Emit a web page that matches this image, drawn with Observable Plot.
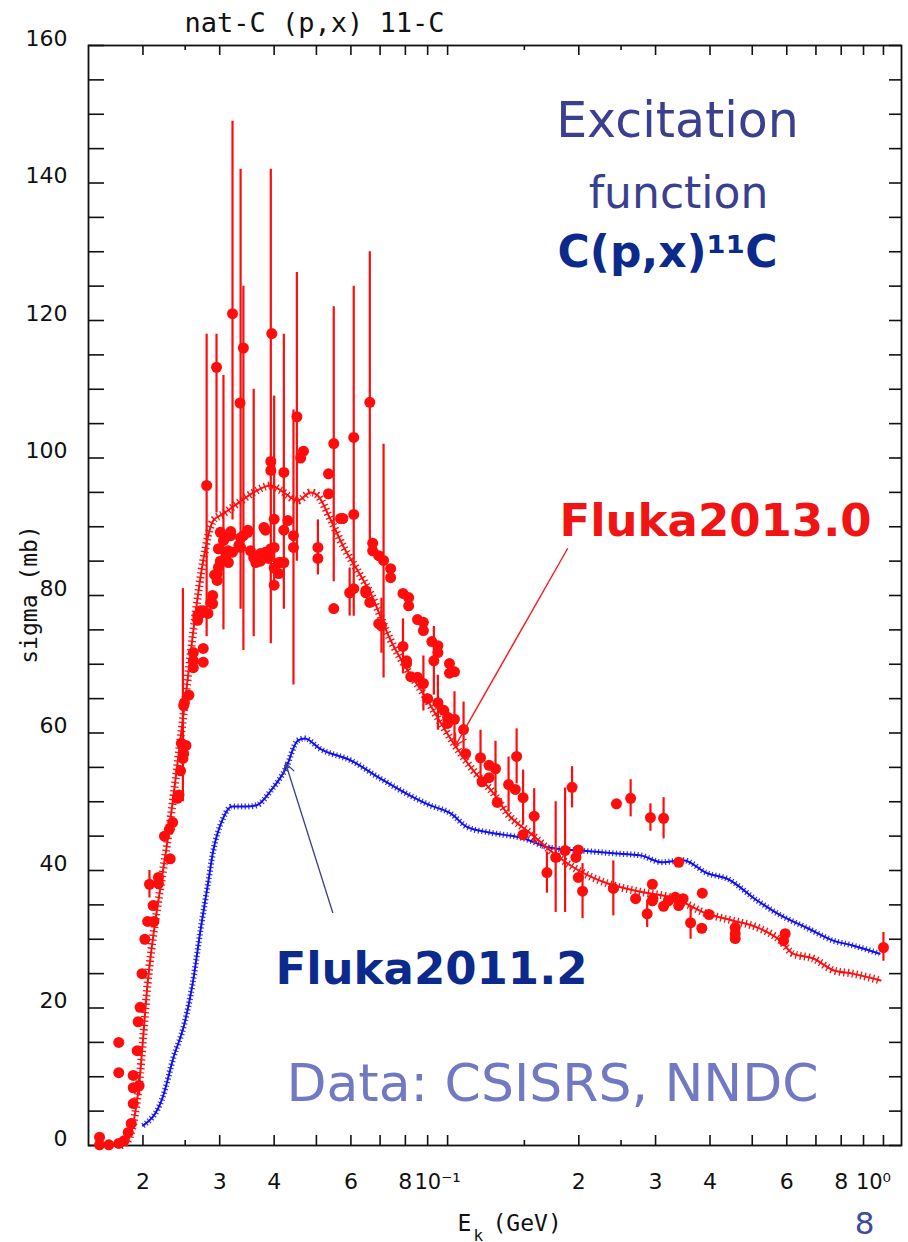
<!DOCTYPE html>
<html><head><meta charset="utf-8">
<script src="https://cdn.jsdelivr.net/npm/d3@7"></script>
<script src="https://cdn.jsdelivr.net/npm/@observablehq/plot@0.6"></script>
<style>
body{margin:0;background:#fff;}
#chart{width:908px;height:1242px;overflow:hidden;}
#chart svg{background:
  radial-gradient(ellipse 620px 170px at 470px 600px, rgba(222,229,205,0.55), rgba(255,255,255,0) 75%),
  radial-gradient(ellipse 170px 190px at 150px 560px, rgba(210,210,210,0.35), rgba(255,255,255,0) 70%),
  #fff;}
</style>
</head><body><div id="chart"></div>
<script>
// ---------- data ----------
// experimental points: [E (GeV), sigma (mb)]
const expPoints = [
 [0.0159,1.2],[0.0159,0.1],[0.0167,0.1],[0.0176,0.3],[0.0176,10.6],[0.0176,15.0],[0.0181,0.7],[0.0185,1.9],
 [0.0188,3.2],[0.019,6.1],[0.019,8.4],[0.019,10.2],[0.0194,13.8],[0.0195,18.0],[0.0196,8.7],[0.0197,20.1],
 [0.0199,25.0],[0.0202,30.0],[0.0205,32.6],[0.0207,38.0],[0.0211,34.9],[0.0212,32.6],[0.0217,39.0],[0.0217,38.1],
 [0.0224,45.0],[0.023,46.0],[0.0231,41.7],[0.0234,47.0],[0.024,50.5],[0.0242,51.0],[0.0244,54.5],[0.0245,58.5],
 [0.0247,56.3],[0.0248,57.0],[0.0248,64.0],[0.0249,64.4],[0.0251,58.2],[0.0255,65.5],[0.0261,69.5],[0.0261,71.7],
 [0.0261,70.5],[0.0267,77.1],[0.0267,76.4],[0.0271,77.8],[0.0271,77.4],[0.0275,70.3],[0.0275,72.3],[0.0275,77.8],
 [0.028,96.0],[0.0282,77.4],[0.0286,79.0],[0.0289,80.0],[0.0289,78.8],[0.0292,83.0],[0.0296,82.2],[0.0296,83.2],
 [0.0295,113.2],[0.0298,84.1],[0.0298,86.8],[0.0301,89.2],[0.0301,85.0],[0.0306,88.0],[0.031,85.8],[0.031,88.5],
 [0.0314,84.8],[0.0314,86.5],[0.0318,88.7],[0.0318,89.3],[0.0321,121.0],[0.0321,86.3],[0.0332,87.3],[0.0334,108.0],
 [0.0335,88.4],[0.0335,87.0],[0.034,116.0],[0.034,88.7],[0.0348,89.2],[0.0348,89.5],[0.0353,86.5],[0.0359,85.5],
 [0.0363,84.8],[0.0372,86.1],[0.0372,85.0],[0.0379,89.9],[0.0379,85.5],[0.0382,86.3],[0.0382,89.5],[0.0388,85.4],
 [0.0388,86.3],[0.0393,86.8],[0.0393,98.2],[0.0393,99.5],[0.0395,118.1],[0.04,87.0],[0.04,91.1],[0.04,81.5],
 [0.04,84.0],[0.041,83.2],[0.041,84.8],[0.0414,84.8],[0.0421,97.9],[0.0421,89.5],[0.0421,84.8],[0.043,90.9],
 [0.0443,88.7],[0.0443,87.0],[0.0451,106.0],[0.046,100.0],[0.0467,101.0],[0.0504,87.0],[0.0504,85.4],[0.0533,97.7],
 [0.0533,94.8],[0.0548,102.1],[0.0548,78.1],[0.0568,91.2],[0.0575,91.2],[0.0596,80.4],[0.0609,103.0],[0.0609,81.0],
 [0.0609,91.8],[0.0649,80.7],[0.0649,80.4],[0.0663,108.1],[0.0663,79.0],[0.0673,87.6],[0.0673,86.5],[0.0695,85.8],
 [0.0695,75.9],[0.0713,85.1],[0.0705,75.6],[0.074,83.9],[0.074,82.6],[0.079,80.3],[0.079,72.6],[0.0805,70.5],
 [0.0805,70.1],[0.0814,79.7],[0.0814,78.5],[0.0823,68.2],[0.0853,76.5],[0.0853,68.1],[0.088,76.1],[0.088,74.9],
 [0.088,67.2],[0.09,65.0],[0.092,73.3],[0.093,70.5],[0.095,72.7],[0.095,71.7],[0.095,64.4],[0.098,63.3],
 [0.1,62.3],[0.1,61.4],[0.101,70.1],[0.101,68.7],[0.1037,68.9],[0.1037,62.0],[0.1088,60.5],[0.11,57.0],
 [0.119,56.4],[0.12,52.9],[0.1245,55.3],[0.1245,53.5],[0.1288,54.8],[0.13,49.9],[0.138,52.5],[0.143,51.8],
 [0.144,56.6],[0.149,50.6],[0.149,45.2],[0.158,47.9],[0.169,39.7],[0.177,41.9],[0.186,42.9],[0.193,52.1],
 [0.197,41.9],[0.1995,43.0],[0.1995,39.0],[0.204,37.0],[0.24,37.4],[0.244,49.7],[0.263,50.5],[0.27,35.9],
 [0.287,33.7],[0.292,47.7],[0.295,38.0],[0.295,35.6],[0.296,35.9],[0.313,47.6],[0.313,34.8],[0.321,35.6],
 [0.333,36.1],[0.339,34.9],[0.339,41.2],[0.347,35.9],[0.361,32.4],[0.383,31.6],[0.384,36.7],[0.398,33.6],
 [0.457,31.7],[0.457,30.8],[0.457,30.1],[0.59,29.8],[0.595,30.8],[1.0,28.8]
];
// experimental error bars: [E (GeV), low (mb), high (mb)]
const expErrors = [
 [0.0196,7.2,10.2],[0.0207,36,40],[0.0247,50,81],[0.028,74,118],[0.0295,92,118],[0.0306,75,112],
 [0.0321,91,149],[0.0335,78,142],[0.034,72,125],[0.0359,74,110],[0.0393,73,142],[0.04,82,109],
 [0.0421,78,118],[0.0443,67,107],[0.0451,85,127],[0.0504,83,91],[0.0548,82,122],[0.0596,77,84],
 [0.0609,77,125],[0.0663,86,130],[0.0713,68,102],[0.0705,71.6,79.6],[0.079,68.6,76.6],[0.088,63.2,71.2],
 [0.093,65.5,75.5],[0.095,60.4,68.4],[0.1037,58,66],[0.1088,56.5,64.5],[0.119,52.4,60.4],[0.1288,50.8,58.8],
 [0.138,48.5,56.5],[0.144,52.6,60.6],[0.149,46.6,54.6],[0.158,43.9,51.9],[0.169,36.7,42.7],[0.177,33.9,50],
 [0.186,33.9,52],[0.193,49.1,55.1],[0.204,33,41],[0.24,33.4,41.4],[0.263,47.8,53.2],[0.287,31.7,35.7],
 [0.292,45.7,49.7],[0.313,44.6,50.6],[0.361,30,34.8],[1.0,26.8,31]
];
// FLUKA 2013.0 calculation
const fluka2013E = [0.0178,0.01845,0.0196,0.0205,0.022,0.0226,0.0251,0.0264,0.0275,0.029,0.0306,0.033,0.0359,0.0393,
 0.0414,0.0453,0.0485,0.0504,0.054,0.0578,0.0622,0.0666,0.074,0.081,0.088,0.0964,0.1032,0.1147,0.1275,0.137,0.155,
 0.172,0.195,0.233,0.277,0.33,0.394,0.452,0.514,0.58,0.62,0.69,0.767,0.85,0.985];
const fluka2013Sigma = [0,0.7,9.0,23.6,38.1,42.9,65.7,77.4,85.1,90.9,91.9,93.4,95.0,96.0,
 95.3,93.8,95.0,94.5,90.9,87.0,83.6,80.3,73.5,69.1,65.7,61.5,58.5,54.5,51.2,48.3,45.4,
 42.9,40.4,38.1,36.9,36.0,33.7,32.7,31.7,29.8,27.9,27.2,25.5,25.0,24.0];
// FLUKA 2011.2 calculation
const fluka2011E = [0.020,0.0222,0.0235,0.0249,0.026,0.0271,0.0282,0.029,0.0305,0.032,0.0345,0.0365,0.0393,0.0425,
 0.0453,0.047,0.051,0.060,0.070,0.082,0.091,0.1016,0.111,0.1255,0.149,0.172,0.202,0.24,0.277,0.31,0.347,0.394,
 0.438,0.514,0.58,0.67,0.767,0.85,0.98];
const fluka2011Sigma = [2.9,7.0,12.8,17.7,23.5,31.3,38.1,42.9,47.5,49.3,49.3,49.5,51.6,54.8,
 58.9,59.2,57.7,56.0,53.4,50.9,49.5,48.3,46.3,45.5,44.7,43.3,42.9,42.5,42.2,41.2,41.5,39.6,
 38.8,35.6,33.5,31.6,29.8,29.1,27.9];
// axes
const yTickLabels = [0,20,40,60,80,100,120,140,160];
const yTickMarks = d3.range(0,161,5);
const xMajorTicks = [0.02,0.03,0.04,0.05,0.06,0.07,0.08,0.09,0.1,0.2,0.3,0.4,0.5,0.6,0.7,0.8,0.9,1.0];
const xMinorTicks = [0.025,0.15,0.25];
const xDigitLabels = [[0.02,"2"],[0.03,"3"],[0.04,"4"],[0.06,"6"],[0.08,"8"],
                      [0.2,"2"],[0.3,"3"],[0.4,"4"],[0.6,"6"],[0.8,"8"]];
const xDecadeLabels = [[0.1,"10⁻¹"],[1.0,"10⁰"]];

const fluka2013 = fluka2013E.map((e,i)=>({e, s: fluka2013Sigma[i]}));
const fluka2011 = fluka2011E.map((e,i)=>({e, s: fluka2011Sigma[i]}));

const W = 908, H = 1242, ML = 88, MR = 7, MT = 45, MB = 97;
const FW = W-ML-MR, FH = H-MT-MB;
const RED = "#ff0d0d", BLUE = "#1010ee";
const mono = "DejaVu Sans Mono";
const sans = "DejaVu Sans";

const ann = (txt, x, y, o) => Plot.text([txt], {frameAnchor:"top-left", dx: x-ML, dy: y-MT, text: d=>d, textAnchor:"middle", lineAnchor:"middle", ...o});

const chart = Plot.plot({
  width: W, height: H,
  marginLeft: ML, marginRight: MR, marginTop: MT, marginBottom: MB,
  x: {type:"log", domain:[0.015,1.1], axis:null},
  y: {domain:[0,160], axis:null},
  style: {background:"transparent", fontFamily: sans, overflow:"visible"},
  marks: [
    // ticks
    Plot.ruleY(yTickMarks, {y:d=>d, insetRight: FW-16, stroke:"#111", strokeWidth:1.6}),
    Plot.ruleY(yTickMarks, {y:d=>d, insetLeft: FW-12, stroke:"#111", strokeWidth:1.6}),
    Plot.ruleX(xMajorTicks, {x:d=>d, insetTop: FH-10, stroke:"#111", strokeWidth:1.6}),
    Plot.ruleX(xMajorTicks, {x:d=>d, insetBottom: FH-10, stroke:"#111", strokeWidth:1.6}),
    Plot.ruleX(xMinorTicks, {x:d=>d, insetTop: FH-5, stroke:"#111", strokeWidth:1.6}),
    Plot.ruleX(xMinorTicks, {x:d=>d, insetBottom: FH-5, stroke:"#111", strokeWidth:1.6}),
    Plot.frame({stroke:"#111", strokeWidth:1.8}),
    // tick labels
    Plot.text(yTickLabels, {y:d=>d, text:d=>String(d), frameAnchor:"left", textAnchor:"end", dx:-21, dy:-7, fontSize:22, fill:"#111"}),
    Plot.text(xDigitLabels, {x:d=>d[0], text:d=>d[1], frameAnchor:"bottom", dy:43, fontSize:22, fill:"#111"}),
    Plot.text(xDecadeLabels, {x:d=>d[0], text:d=>d[1], frameAnchor:"bottom", dy:43, dx:-10, fontSize:21, fill:"#111"}),
    // titles
    ann("nat-C (p,x) 11-C", 184, 31, {fontFamily:mono, fontSize:27, textAnchor:"start", lineAnchor:"bottom", fill:"#111"}),
    ann("sigma (mb)", 29, 594, {rotate:-90, fontFamily:mono, fontSize:23, fill:"#111"}),
    ann("E", 457, 1230, {fontFamily:mono, fontSize:23, textAnchor:"start", lineAnchor:"bottom", fill:"#111"}),
    ann("k", 473, 1240, {fontFamily:mono, fontSize:16, textAnchor:"start", lineAnchor:"bottom", fill:"#111"}),
    ann("(GeV)", 492, 1230, {fontFamily:mono, fontSize:23, textAnchor:"start", lineAnchor:"bottom", fill:"#111"}),
    // model curves
    Plot.line(fluka2011, {x:"e", y:"s", curve:"monotone-x", stroke:BLUE, strokeWidth:6, strokeDasharray:"1.2,2.4", strokeLinecap:"butt", strokeOpacity:0.85}),
    Plot.line(fluka2011, {x:"e", y:"s", curve:"monotone-x", stroke:BLUE, strokeWidth:2}),
    Plot.line(fluka2013, {x:"e", y:"s", curve:"monotone-x", stroke:RED, strokeWidth:8, strokeDasharray:"1.3,3", strokeLinecap:"butt"}),
    Plot.line(fluka2013, {x:"e", y:"s", curve:"monotone-x", stroke:RED, strokeWidth:2}),
    // experimental data
    Plot.ruleX(expErrors, {x:d=>d[0], y1:d=>d[1], y2:d=>d[2], stroke:RED, strokeWidth:2.2}),
    Plot.dot(expPoints, {x:d=>d[0], y:d=>d[1], r:5.5, fill:RED, stroke:"none"}),
    // arrows
    Plot.arrow([{x1:0.1884,y1:86.8,x2:0.1043,y2:58.2}], {x1:"x1",y1:"y1",x2:"x2",y2:"y2", stroke:"#ff1a1a", strokeWidth:1.4, headLength:13}),
    Plot.arrow([{x1:0.0545,y1:33.9,x2:0.0425,y2:55.6}], {x1:"x1",y1:"y1",x2:"x2",y2:"y2", stroke:"#3a3f86", strokeWidth:1.3, headLength:13}),
    // annotations
    ann("Excitation", 677, 121, {fontSize:49, fill:"#3b3f8f"}),
    ann("function", 678, 193, {fontSize:44, fill:"#3b3f8f"}),
    ann("C(p,x)¹¹C", 667, 252, {fontSize:44, fontWeight:"bold", fill:"#0b2a8c"}),
    ann("Fluka2013.0", 715, 521, {fontSize:45, fontWeight:"bold", fill:"#f01414"}),
    ann("Fluka2011.2", 431, 969, {fontSize:45, fontWeight:"bold", fill:"#0b2a8c"}),
    ann("Data: CSISRS, NNDC", 552, 1084, {fontSize:52, fill:"#7079c2"}),
    ann("8", 864, 1233, {fontSize:31, lineAnchor:"bottom", fill:"#3c4aa0"})
  ]
});
document.getElementById("chart").appendChild(chart);
</script>
</body></html>
